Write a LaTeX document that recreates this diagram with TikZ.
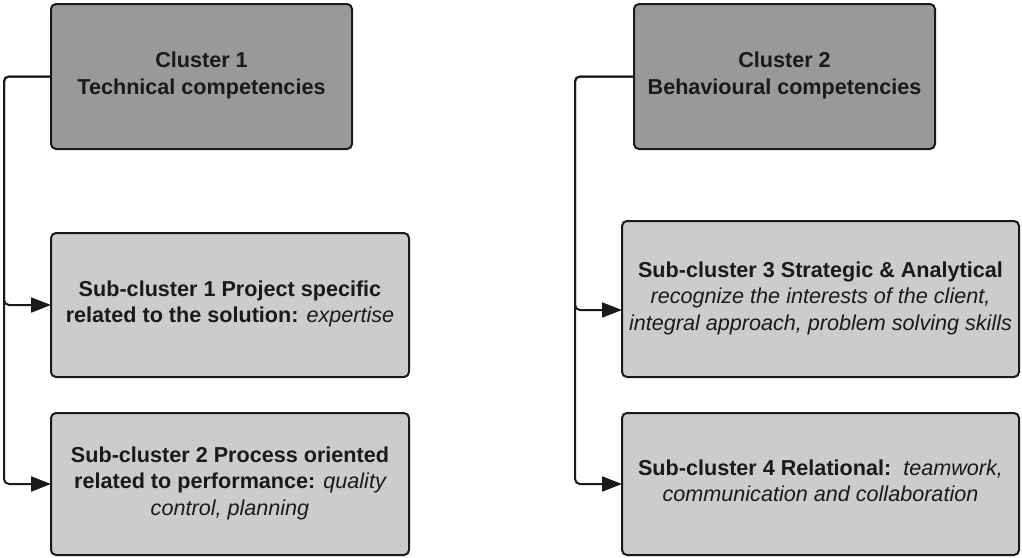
\documentclass[tikz,border=0pt]{standalone}
\usepackage{fontspec}
\setmainfont{Liberation Sans}
\usetikzlibrary{arrows.meta}
\definecolor{clusterfill}{HTML}{999999}
\definecolor{subfill}{HTML}{CCCCCC}
\definecolor{edge}{HTML}{1A1A1A}
\newcommand\desc[1]{{\mdseries\itshape #1}}
% a short empty last line lifts the text block a little above the box centre
\newcommand\lift{\\[-20pt]\mbox{}}
\tikzset{
  box/.style={draw=edge, line width=2pt, rounded corners=5pt, inner sep=0pt, outer sep=0pt,
    align=center, text=edge, font=\fontsize{21.6}{26.5}\selectfont\bfseries},
  clusterbox/.style={box, fill=clusterfill, minimum width=301pt, minimum height=145pt},
  subbox/.style={box, fill=subfill, minimum height=#1},
  conn/.style={draw=edge, line width=2pt, rounded corners=5pt},
  arr/.style={conn, -{Triangle[length=20pt, width=15pt]}}
}
\begin{document}
\begin{tikzpicture}[x=1pt, y=-1pt]
\useasboundingbox (0,0) rectangle (1022,557);

% top-level clusters
\node[clusterbox] (c1) at (201.5,76.5) {Cluster 1\\Technical competencies\lift};
\node[clusterbox] (c2) at (784.5,76.5) {Cluster 2\\Behavioural competencies\lift};

% technical sub-clusters
\node[subbox=144pt, minimum width=358pt] (s1) at (230,305)
  {Sub-cluster 1 Project specific\\related to the solution: \desc{expertise}\lift};
\node[subbox=142pt, minimum width=358pt] (s2) at (230,484)
  {Sub-cluster 2 Process oriented\\related to performance: \desc{quality}\\\desc{control, planning}\lift};

% behavioural sub-clusters
\node[subbox=156pt, minimum width=397pt] (s3) at (820.5,299)
  {Sub-cluster 3 Strategic \& Analytical\\\desc{recognize the interests of the client,}\\\desc{integral approach, problem solving skills}\lift};
\node[subbox=142pt, minimum width=397pt] (s4) at (820.5,484)
  {Sub-cluster 4 Relational:\ \ \desc{teamwork,}\\\desc{communication and collaboration}\lift};

% bus lines on the left of each column
\coordinate (b1) at (4,76.5);
\coordinate (b2) at (575,76.5);

\draw[arr] (c1.west) -- (b1) |- (s1.west);
\draw[arr] (c1.west) -- (b1) |- (s2.west);
\draw[arr] (c2.west) -- (b2) |- ([yshift=-11pt]s3.west);
\draw[arr] (c2.west) -- (b2) |- (s4.west);
\end{tikzpicture}
\end{document}
